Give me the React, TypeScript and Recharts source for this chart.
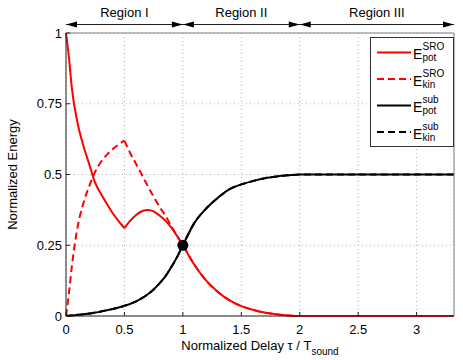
import { LineChart, Line, XAxis, YAxis, CartesianGrid, ReferenceLine, ReferenceDot, Legend } from "recharts";

const FONT = "'Liberation Sans', Arial, Helvetica, sans-serif";

// normalized delay tau / T_sound
const delay = [
  0, 0.025, 0.05, 0.1, 0.15, 0.2, 0.25, 0.3, 0.35, 0.4, 0.45, 0.5,
  0.55, 0.6, 0.65, 0.7, 0.75, 0.8, 0.85, 0.9, 0.95, 1,
  1.1, 1.2, 1.3, 1.4, 1.5, 1.6, 1.7, 1.8, 1.9, 2, 2.5, 3, 3.32,
];

const potSRO = [
  1, 0.915, 0.805, 0.68, 0.6, 0.535, 0.47, 0.431, 0.396, 0.363, 0.335, 0.31,
  0.337, 0.357, 0.37, 0.375, 0.37, 0.355, 0.337, 0.313, 0.283, 0.25,
  0.18, 0.125, 0.085, 0.055, 0.035, 0.022, 0.012, 0.006, 0.002, 0, 0, 0, 0,
];

const kinSRO = [
  0, 0.08, 0.175, 0.316, 0.4, 0.46, 0.51, 0.545, 0.57, 0.59, 0.606, 0.62,
  0.575, 0.537, 0.498, 0.459, 0.421, 0.386, 0.355, 0.318, 0.283, 0.25,
  0.18, 0.125, 0.085, 0.055, 0.035, 0.022, 0.012, 0.006, 0.002, 0, 0, 0, 0,
];

const potSub = [
  0, 0.001, 0.002, 0.004, 0.006, 0.009, 0.012, 0.016, 0.02, 0.025, 0.03, 0.036,
  0.043, 0.052, 0.063, 0.077, 0.094, 0.115, 0.14, 0.172, 0.208, 0.25,
  0.33, 0.38, 0.418, 0.448, 0.465, 0.477, 0.487, 0.493, 0.497, 0.5, 0.5, 0.5, 0.5,
];

const kinSub = [
  0, 0.001, 0.002, 0.004, 0.006, 0.009, 0.012, 0.016, 0.02, 0.025, 0.03, 0.036,
  0.043, 0.052, 0.063, 0.077, 0.094, 0.115, 0.14, 0.172, 0.208, 0.25,
  0.33, 0.38, 0.418, 0.448, 0.465, 0.477, 0.487, 0.493, 0.497, 0.5, 0.5, 0.5, 0.5,
];

const xTicks = [0, 0.5, 1, 1.5, 2, 2.5, 3];
const yTicks = [0, 0.25, 0.5, 0.75, 1];
const X_MAX = 3.32;
const CUSP = 0.5; // SRO curves have a kink here

const regions = [
  { name: "Region I", from: 0, to: 1 },
  { name: "Region II", from: 1, to: 2 },
  { name: "Region III", from: 2, to: X_MAX },
];

const crossing = { x: 1, y: 0.25 };

const SERIES = [
  { sup: "SRO", sub: "pot", color: "#ff0000", dash: undefined },
  { sup: "SRO", sub: "kin", color: "#ff0000", dash: "7 4" },
  { sup: "sub", sub: "pot", color: "#000000", dash: undefined },
  { sup: "sub", sub: "kin", color: "#000000", dash: "7 4" },
];

// split the SRO curves at the kink so monotone doesn't round it off
const rows = delay.map((x, i) => ({
  x,
  potA: x <= CUSP ? potSRO[i] : null,
  potB: x >= CUSP ? potSRO[i] : null,
  kinA: x <= CUSP ? kinSRO[i] : null,
  kinB: x >= CUSP ? kinSRO[i] : null,
  potSub: potSub[i],
  kinSub: kinSub[i],
}));

const tickStyle = { fontSize: 13, fill: "#000", fontFamily: FONT };

function regionArrow(label: string) {
  return (props: any) => {
    const { x1, y1, x2 } = props;
    const y = y1;
    return (
      <g>
        <line x1={x1} y1={y} x2={x2} y2={y} stroke="#222" strokeWidth={1} />
        <polygon points={`${x1},${y} ${x1 + 11},${y - 3} ${x1 + 11},${y + 3}`} fill="#000" />
        <polygon points={`${x2},${y} ${x2 - 11},${y - 3} ${x2 - 11},${y + 3}`} fill="#000" />
        <text x={(x1 + x2) / 2} y={y - 8} textAnchor="middle" fontSize={13} fontFamily={FONT} fill="#000">
          {label}
        </text>
      </g>
    );
  };
}

const xLabel = ({ viewBox }: any) => (
  <text x={viewBox.x + viewBox.width / 2} y={viewBox.y + 34} textAnchor="middle" fontSize={13} fontFamily={FONT} fill="#000">
    Normalized Delay τ / T<tspan dy={5} fontSize={10}>sound</tspan>
  </text>
);

const yLabel = ({ viewBox }: any) => {
  const x = viewBox.x + 16.5;
  const cy = viewBox.y + viewBox.height / 2;
  return (
    <text x={x} y={cy} transform={`rotate(-90, ${x}, ${cy})`} textAnchor="middle" fontSize={13} fontFamily={FONT} fill="#000">
      Normalized Energy
    </text>
  );
};

const renderLegend = () => (
  <svg width={84} height={110} style={{ display: "block" }}>
    <rect x={0.5} y={0.5} width={83} height={109} fill="#fff" stroke="#333" />
    {SERIES.map((s, i) => {
      const cy = 15.6 + 26.5 * i;
      return (
        <g key={i}>
          <line x1={7} y1={cy} x2={41} y2={cy} stroke={s.color} strokeWidth={2} strokeDasharray={s.dash} />
          <text fontFamily={FONT} fill="#000">
            <tspan x={43} y={cy + 6.7} fontSize={14}>E</tspan>
            <tspan x={52.5} y={cy - 2.3} fontSize={10}>{s.sup}</tspan>
            <tspan x={52.5} y={cy + 8.7} fontSize={10}>{s.sub}</tspan>
          </text>
        </g>
      );
    })}
  </svg>
);

export default function App() {
  return (
    <div style={{ position: "absolute", left: 0, top: 0, width: 463, height: 360, background: "#fff" }}>
      <LineChart width={463} height={360} data={rows} margin={{ top: 0, right: 0, bottom: 0, left: 0 }}>
        <CartesianGrid stroke="#b0b0b0" strokeDasharray="1 3" />
        <XAxis
          dataKey="x"
          type="number"
          domain={[0, X_MAX]}
          ticks={xTicks}
          height={44}
          tick={tickStyle}
          tickSize={-4}
          tickMargin={13}
          stroke="#222"
          label={xLabel}
        />
        <XAxis
          xAxisId="top"
          orientation="top"
          type="number"
          domain={[0, X_MAX]}
          ticks={xTicks}
          height={33}
          tick={false}
          tickSize={-4}
          stroke="#808080"
        />
        <YAxis
          type="number"
          domain={[0, 1]}
          ticks={yTicks}
          width={66}
          tick={tickStyle}
          tickSize={-4}
          tickMargin={8}
          stroke="#222"
          label={yLabel}
        />
        <YAxis
          yAxisId="right"
          orientation="right"
          type="number"
          domain={[0, 1]}
          ticks={yTicks}
          width={9}
          tick={false}
          tickSize={-4}
          stroke="#808080"
        />
        {regions.map((r) => (
          <ReferenceLine
            key={r.name}
            segment={[{ x: r.from, y: 1.03 }, { x: r.to, y: 1.03 }]}
            ifOverflow="visible"
            shape={regionArrow(r.name)}
          />
        ))}
        <Line dataKey="kinA" type="monotone" stroke={SERIES[1].color} strokeWidth={2} strokeDasharray={SERIES[1].dash} dot={false} isAnimationActive={false} />
        <Line dataKey="kinB" type="monotone" stroke={SERIES[1].color} strokeWidth={2} strokeDasharray={SERIES[1].dash} dot={false} isAnimationActive={false} />
        <Line dataKey="potA" type="monotone" stroke={SERIES[0].color} strokeWidth={2} dot={false} isAnimationActive={false} />
        <Line dataKey="potB" type="monotone" stroke={SERIES[0].color} strokeWidth={2} dot={false} isAnimationActive={false} />
        <Line dataKey="kinSub" type="monotone" stroke={SERIES[3].color} strokeWidth={2} strokeDasharray={SERIES[3].dash} dot={false} isAnimationActive={false} />
        <Line dataKey="potSub" type="monotone" stroke={SERIES[2].color} strokeWidth={2} dot={false} isAnimationActive={false} />
        <ReferenceDot x={crossing.x} y={crossing.y} r={5.5} fill="#000" stroke="none" />
        <Legend
          layout="vertical"
          align="center"
          verticalAlign="middle"
          content={renderLegend}
          wrapperStyle={{ left: 370, top: 37, width: 84, height: 110, margin: 0 }}
        />
      </LineChart>
    </div>
  );
}
